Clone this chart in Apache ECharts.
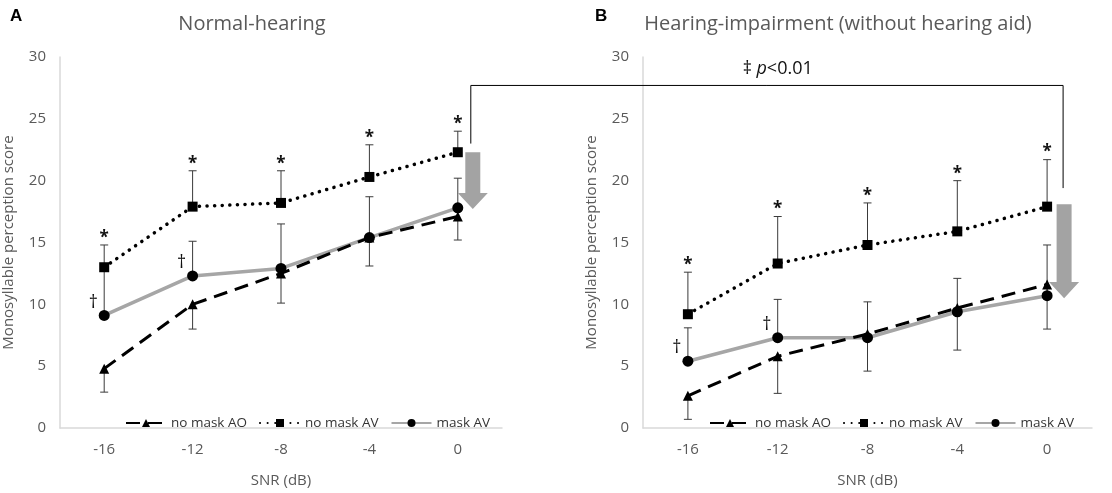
<!DOCTYPE html>
<html>
<head>
<meta charset="utf-8">
<script src="https://cdn.jsdelivr.net/npm/echarts@6/dist/echarts.min.js"></script>
<style>
  html, body { margin: 0; background: #fff; }
  #chart { width: 1112px; height: 493px; }
</style>
</head>
<body>
<div id="chart"></div>
<script>
var snr = ['-16', '-12', '-8', '-4', '0'];
// A: normal hearing
var aAO = [4.8, 10.0, 12.5, 15.4, 17.1];
var aAOLow = [2.9, 8.0, 10.1, 13.1, 15.2];
var aAV = [13.0, 17.9, 18.2, 20.3, 22.3];
var aAVHigh = [14.8, 20.8, 20.8, 22.9, 24.0];
var aMask = [9.1, 12.3, 12.9, 15.4, 17.8];
var aMaskHigh = [13.0, 15.1, 16.5, 18.7, 20.2];
// B: hearing impairment
var bAO = [2.6, 5.8, 7.6, 9.7, 11.6];
var bAOLow = [0.7, 2.8, 4.6, 6.3, 8.0];
var bAV = [9.2, 13.3, 14.8, 15.9, 17.9];
var bAVHigh = [12.6, 17.1, 18.2, 20.0, 21.7];
var bMask = [5.4, 7.3, 7.3, 9.4, 10.7];
var bMaskHigh = [8.1, 10.4, 10.2, 12.1, 14.8];
// significance marks (category index)
var starIdx = [0, 1, 2, 3, 4];
var daggerIdx = [0, 1];

var FONT = '"Open Sans", "Noto Sans", sans-serif';
var GREY_TXT = '#595959';

var chart = echarts.init(document.getElementById('chart'));

function errData(vals, ends) {
    return vals.map(function (v, i) { return [i, v, ends[i]]; });
}

function renderErr(params, api) {
    var x = api.value(0);
    var p0 = api.coord([x, api.value(1)]);
    var p1 = api.coord([x, api.value(2)]);
    var st = { stroke: '#3a3a3a', lineWidth: 1 };
    return {
        type: 'group',
        children: [
            { type: 'line', shape: { x1: p0[0], y1: p0[1], x2: p1[0], y2: p1[1] }, style: st },
            { type: 'line', shape: { x1: p1[0] - 4, y1: p1[1], x2: p1[0] + 4, y2: p1[1] }, style: st }
        ]
    };
}

function markData(idx, vals) {
    return idx.map(function (i) { return [i, vals[i]]; });
}

function renderStar(params, api) {
    var p = api.coord([api.value(0), api.value(1)]);
    return { type: 'text', x: p[0], y: p[1] - 7, style: { text: '*', fontSize: 17, fontWeight: 'bold', fontFamily: FONT, fill: '#111', align: 'center', verticalAlign: 'middle' } };
}

function renderDagger(params, api) {
    var p = api.coord([api.value(0), api.value(1)]);
    return { type: 'text', x: p[0] - 11, y: p[1] - 13, style: { text: '†', fontSize: 18, fontFamily: FONT, fill: '#111', align: 'center', verticalAlign: 'middle' } };
}

function xAx(gi) {
    return {
        type: 'category', gridIndex: gi, data: snr, boundaryGap: true,
        axisLine: { lineStyle: { color: '#d9d9d9', width: 1.5 } },
        axisTick: { show: false },
        axisLabel: { color: GREY_TXT, fontSize: 15, fontFamily: FONT, margin: 14 },
        name: 'SNR (dB)', nameLocation: 'middle', nameGap: 45,
        nameTextStyle: { color: GREY_TXT, fontSize: 15, fontFamily: FONT }
    };
}

function yAx(gi) {
    return {
        type: 'value', gridIndex: gi, min: 0, max: 30, interval: 5,
        axisLine: { show: true, lineStyle: { color: '#d9d9d9', width: 1.5 } },
        axisTick: { show: false },
        splitLine: { show: false },
        axisLabel: { color: GREY_TXT, fontSize: 15, fontFamily: FONT, margin: 14 },
        name: 'Monosyllable perception score', nameLocation: 'middle', nameGap: 44,
        nameTextStyle: { color: GREY_TXT, fontSize: 15, fontFamily: FONT }
    };
}

function panelSeries(gi, ao, aoLow, av, avHigh, mask, maskHigh) {
    return [
        { type: 'custom', xAxisIndex: gi, yAxisIndex: gi, renderItem: renderErr, data: errData(ao, aoLow), encode: { x: 0, y: [1, 2] }, z: 1, silent: true },
        { type: 'custom', xAxisIndex: gi, yAxisIndex: gi, renderItem: renderErr, data: errData(av, avHigh), encode: { x: 0, y: [1, 2] }, z: 1, silent: true },
        { type: 'custom', xAxisIndex: gi, yAxisIndex: gi, renderItem: renderErr, data: errData(mask, maskHigh), encode: { x: 0, y: [1, 2] }, z: 1, silent: true },
        {
            name: 'no mask AO', type: 'line', xAxisIndex: gi, yAxisIndex: gi, data: ao,
            symbol: 'triangle', symbolSize: 10, itemStyle: { color: '#000' },
            lineStyle: { color: '#000', width: 3, type: [14, 8] }, z: 3
        },
        {
            name: 'no mask AV', type: 'line', xAxisIndex: gi, yAxisIndex: gi, data: av,
            symbol: 'rect', symbolSize: 10, itemStyle: { color: '#000' },
            lineStyle: { color: '#000', width: 3.5, type: [0.1, 7.5], cap: 'round' }, z: 3
        },
        {
            name: 'mask AV', type: 'line', xAxisIndex: gi, yAxisIndex: gi, data: mask,
            symbol: 'circle', symbolSize: 11, itemStyle: { color: '#000' },
            lineStyle: { color: '#a6a6a6', width: 3.5 }, z: 2
        },
        { type: 'custom', xAxisIndex: gi, yAxisIndex: gi, renderItem: renderStar, data: markData(starIdx, gi === 0 ? aAVHigh : bAVHigh), encode: { x: 0, y: 1 }, z: 4, silent: true },
        { type: 'custom', xAxisIndex: gi, yAxisIndex: gi, renderItem: renderDagger, data: markData(daggerIdx, mask), encode: { x: 0, y: 1 }, z: 4, silent: true }
    ];
}

function legendAt(left) {
    return {
        left: left, top: 411, itemWidth: 40, itemHeight: 10, itemGap: 12,
        data: ['no mask AO', 'no mask AV', 'mask AV'],
        textStyle: { color: '#333', fontSize: 13.5, fontFamily: FONT }
    };
}

chart.setOption({
    animation: false,
    grid: [
        { left: 60, top: 57, width: 442, height: 376 },
        { left: 643, top: 57, width: 449, height: 376 }
    ],
    xAxis: [xAx(0), xAx(1)],
    yAxis: [yAx(0), yAx(1)],
    legend: [legendAt(120), legendAt(704)],
    series: panelSeries(0, aAO, aAOLow, aAV, aAVHigh, aMask, aMaskHigh)
        .concat(panelSeries(1, bAO, bAOLow, bAV, bAVHigh, bMask, bMaskHigh))
});

// annotations anchored on the chart scales
function px(gi, i, v) { return chart.convertToPixel({ gridIndex: gi }, [i, v]); }

function arrow(cx, yTop, yHead, yTip) {
    var s = 7.5, h = 15;
    return {
        type: 'polygon', z: 5,
        shape: { points: [[cx - s, yTop], [cx + s, yTop], [cx + s, yHead], [cx + h, yHead], [cx, yTip], [cx - h, yHead], [cx - s, yHead]] },
        style: { fill: '#a3a3a3' }
    };
}

var aEnd = px(0, 4, 0)[0];
var bEnd = px(1, 4, 0)[0];
var yBrk = px(0, 0, 27.7)[1];
var bracketPts = [
    [aEnd + 13, px(0, 0, 23.0)[1]],
    [aEnd + 13, yBrk],
    [bEnd + 16, yBrk],
    [bEnd + 16, px(1, 0, 19.4)[1]]
];
var pTxt = px(1, 1, 29.0);

chart.setOption({
    graphic: [
        { type: 'text', left: 10, top: 8, style: { text: 'A', fontSize: 17, fontWeight: 'bold', fontFamily: 'Liberation Sans, Arial, sans-serif', fill: '#000' } },
        { type: 'text', x: 252, y: 24, style: { text: 'Normal-hearing', fontSize: 20, fontFamily: FONT, fill: GREY_TXT, align: 'center', verticalAlign: 'middle' } },
        { type: 'text', left: 595, top: 8, style: { text: 'B', fontSize: 17, fontWeight: 'bold', fontFamily: 'Liberation Sans, Arial, sans-serif', fill: '#000' } },
        { type: 'text', x: 838, y: 24, style: { text: 'Hearing-impairment (without hearing aid)', fontSize: 20, fontFamily: FONT, fill: GREY_TXT, align: 'center', verticalAlign: 'middle' } },
        { type: 'polyline', z: 5, shape: { points: bracketPts }, style: { stroke: '#000', lineWidth: 1, fill: null } },
        {
            type: 'text', x: pTxt[0], y: pTxt[1], z: 5,
            style: {
                text: '{n|‡ }{i|p}{n|<0.01}', align: 'center', verticalAlign: 'middle',
                rich: {
                    n: { fontSize: 18, fontFamily: FONT, fill: '#111' },
                    i: { fontSize: 18, fontFamily: FONT, fontStyle: 'italic', fill: '#111' }
                }
            }
        },
        arrow(aEnd + 15, px(0, 0, 22.3)[1], px(0, 0, 19.0)[1], px(0, 0, 17.7)[1]),
        arrow(bEnd + 17, px(1, 0, 18.1)[1], px(1, 0, 11.8)[1], px(1, 0, 10.5)[1])
    ]
});
</script>
</body>
</html>
